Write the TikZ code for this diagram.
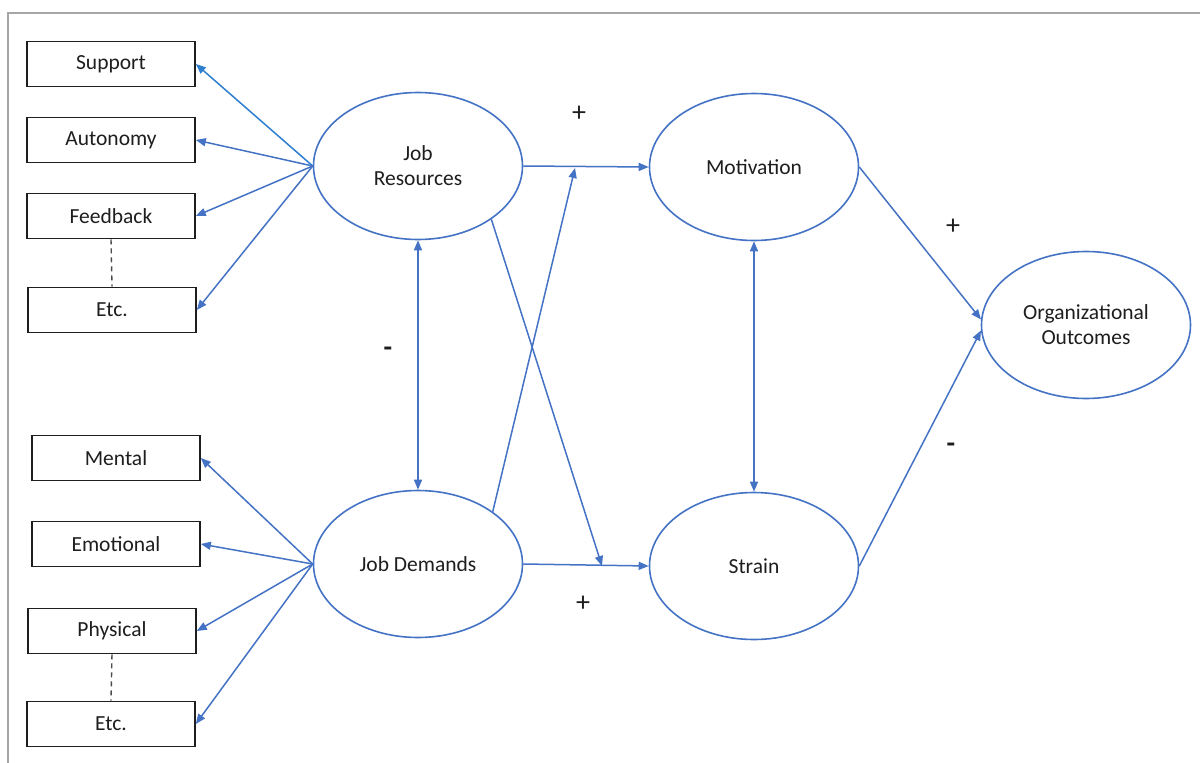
\documentclass[tikz,border=0pt]{standalone}
\usepackage{fontspec}
\setmainfont{Carlito}
\usetikzlibrary{arrows.meta,shapes.geometric}
\definecolor{linkblue}{HTML}{4472C4}
\definecolor{brightblue}{HTML}{2E7FD0}
\definecolor{inkgray}{HTML}{1E1E1E}
\definecolor{framegray}{HTML}{A6A6A6}
\tikzset{
  factor/.style={draw=inkgray, line width=1.6pt, rectangle, minimum width=168pt,
    minimum height=45pt, inner sep=0pt, text=inkgray,
    font=\fontsize{21.5}{25}\selectfont},
  latent/.style={draw=linkblue, line width=1.6pt, ellipse, minimum width=209pt,
    minimum height=147pt, inner sep=0pt, align=center, text=inkgray,
    font=\fontsize{21.5}{25}\selectfont},
  link/.style={draw=linkblue, line width=1.5pt,
    -{Triangle[length=10pt,width=8pt]}},
  twoway/.style={draw=linkblue, line width=1.5pt,
    {Triangle[length=10pt,width=8pt]}-{Triangle[length=10pt,width=8pt]}},
  ellipsis/.style={draw=inkgray!80, line width=1.4pt, dash pattern=on 5pt off 4pt},
  sign/.style={text=inkgray, font=\fontsize{28}{28}\selectfont, inner sep=0pt}
}
\begin{document}
\begin{tikzpicture}[x=1pt, y=-1pt]
\useasboundingbox (0,0) rectangle (1200,763);
\fill[white] (0,0) rectangle (1200,763);
% outer frame (top and left edges)
\draw[framegray, line width=2pt] (8,763) -- (8,13) -- (1200,13);

% resource factors
\node[factor] (support)  at (111,64)  {Support};
\node[factor] (autonomy) at (111,140) {Autonomy};
\node[factor] (feedback) at (111,216) {Feedback};
\node[factor] (etcA)     at (112,310) {Etc.};
% demand factors
\node[factor] (mental)    at (116,458) {Mental};
\node[factor] (emotional) at (116,544) {Emotional};
\node[factor] (physical)  at (112,631) {Physical};
\node[factor] (etcB)      at (111,724) {Etc.};

% latent constructs
\node[latent] (jr)  at (418,166) {Job\\Resources};
\node[latent] (jd)  at (418,564) {Job Demands};
\node[latent] (mot) at (754,167) {Motivation};
\node[latent] (str) at (754,566) {Strain};
\node[latent] (oo)  at (1086,325) {Organizational\\Outcomes};

% junction points on the main paths
\coordinate (jrmot) at (575,168);
\coordinate (jdstr) at (602,566);

% continuation dots between factor lists
\draw[ellipsis] (feedback.south) -- (etcA.north);
\draw[ellipsis] (physical.south) -- (etcB.north);

% construct to factor links
\draw[link, draw=brightblue] (jr.west) -- (support.east);
\draw[link] (jr.west) -- (autonomy.east);
\draw[link] (jr.west) -- (feedback.east);
\draw[link] (jr.west) -- (etcA.east);
\draw[link] (jd.west) -- (mental.east);
\draw[link] (jd.west) -- (emotional.east);
\draw[link] (jd.west) -- (physical.east);
\draw[link] (jd.west) -- (etcB.east);

% main paths
\draw[link] (jr.east) -- (mot.west);
\draw[link] (jd.east) -- (str.west);
\draw[link] (jd.35) -- (jrmot);
\draw[link] (jr.-36) -- (jdstr);
\draw[twoway] (jr.south) -- (jd.north);
\draw[twoway] (mot.south) -- (str.north);
\draw[link] (mot.east) -- (oo.177);
\draw[link] (str.east) -- (oo.183);

% path signs
\node[sign] at (579,114) {+};
\node[sign] at (583,604) {+};
\node[sign] at (388,352) {\bfseries -};
\node[sign] at (953,227) {+};
\node[sign] at (951,448) {\bfseries -};
\end{tikzpicture}
\end{document}
